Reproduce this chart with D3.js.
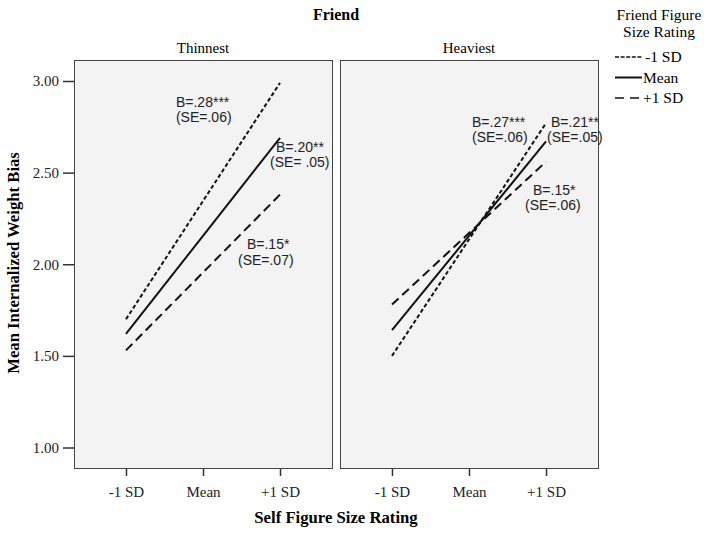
<!DOCTYPE html>
<html>
<head>
<meta charset="utf-8">
<script src="https://cdn.jsdelivr.net/npm/d3@7"></script>
<style>
  body { margin: 0; background: #fff; }
  .serif { font-family: "Liberation Serif", "Times New Roman", serif; }
  .sans { font-family: "Liberation Sans", Arial, sans-serif; }
</style>
</head>
<body>
<div id="chart"></div>
<script>
/* categories and series */
const xLevels = ['-1 SD', 'Mean', '+1 SD'];
const panels = ['Thinnest', 'Heaviest'];
const friendLevels = ['-1 SD', 'Mean', '+1 SD'];
const yTicks = [1.00, 1.50, 2.00, 2.50, 3.00];

// mean internalized weight bias at -1 SD / Mean / +1 SD self rating
const thinMinus = [1.70, 2.345, 2.99];
const thinMean = [1.62, 2.155, 2.69];
const thinPlus = [1.53, 1.955, 2.38];
const heavyMinus = [1.50, 2.135, 2.77];
const heavyMean = [1.64, 2.155, 2.67];
const heavyPlus = [1.78, 2.17, 2.56];

const thinLabels = [['B=.28***', '(SE=.06)'], ['B=.20**', '(SE= .05)'], ['B=.15*', '(SE=.07)']];
const heavyLabels = [['B=.27***', '(SE=.06)'], ['B=.21**', '(SE=.05)'], ['B=.15*', '(SE=.06)']];

const W = 704, H = 535;
const dashes = { '-1 SD': '4,2.5', 'Mean': null, '+1 SD': '9,5' };

const svg = d3.select('#chart').append('svg')
  .attr('width', W).attr('height', H);

const y = d3.scaleLinear().domain([1, 3]).range([447.5, 81]);
const plotTop = 60, plotBottom = 468;

const panelBoxes = [
  { name: panels[0], x0: 74, x1: 332, series: [thinMinus, thinMean, thinPlus], labels: thinLabels,
    // label placement: [steps right of -1 SD, y value of first baseline, 2nd line x shift]
    labelPos: [[0.649, 2.86, 0], [1.948, 2.613, -6], [1.571, 2.083, -9]] },
  { name: panels[1], x0: 340, x1: 598, series: [heavyMinus, heavyMean, heavyPlus], labels: heavyLabels,
    labelPos: [[1.039, 2.749, 0], [2.065, 2.749, -4], [1.831, 2.38, -8]] }
];

const line = (x) => d3.line().x((d, i) => x(xLevels[i])).y(d => y(d));

panelBoxes.forEach((p) => {
  const x = d3.scalePoint().domain(xLevels).range([p.x0, p.x1]).padding(0.675);
  const g = svg.append('g');

  g.append('rect')
    .attr('x', p.x0 + 0.5).attr('y', plotTop + 0.5)
    .attr('width', p.x1 - p.x0).attr('height', plotBottom - plotTop)
    .attr('fill', '#f3f3f3').attr('stroke', '#444').attr('stroke-width', 1);

  // panel title
  g.append('text').attr('class', 'serif')
    .attr('x', (p.x0 + p.x1) / 2).attr('y', 53)
    .attr('text-anchor', 'middle').attr('font-size', 15)
    .text(p.name);

  // x axis
  const xAxis = d3.axisBottom(x).tickSize(7).tickPadding(10);
  const ax = g.append('g').attr('transform', `translate(0,${plotBottom + 1})`).call(xAxis);
  ax.select('.domain').remove();
  ax.selectAll('line').attr('stroke', '#333').attr('stroke-width', 1.5);
  ax.selectAll('text').attr('class', 'serif').attr('font-size', 15).attr('fill', '#222');

  p.series.forEach((s, i) => {
    g.append('path')
      .attr('d', line(x)(s))
      .attr('fill', 'none').attr('stroke', '#111').attr('stroke-width', 2)
      .attr('stroke-dasharray', dashes[friendLevels[i]]);
  });

  const step = x.step();
  p.labels.forEach((lab, i) => {
    const [sx, vy, shift] = p.labelPos[i];
    const lx = x(xLevels[0]) + sx * step;
    lab.forEach((l, j) => {
      g.append('text').attr('class', 'sans')
        .attr('x', lx + (j === 1 ? shift : 0))
        .attr('y', y(vy) + j * 15.5)
        .attr('font-size', 14).attr('fill', '#222')
        .text(l);
    });
  });
});

// y axis
const yAxis = d3.axisLeft(y).tickValues(yTicks).tickFormat(d3.format('.2f')).tickSize(11).tickPadding(4);
const ay = svg.append('g').attr('transform', 'translate(74,0)').call(yAxis);
ay.select('.domain').remove();
ay.selectAll('line').attr('stroke', '#333').attr('stroke-width', 1.5);
ay.selectAll('text').attr('class', 'serif').attr('font-size', 15).attr('fill', '#222');

// titles
svg.append('text').attr('class', 'serif')
  .attr('x', 336).attr('y', 20).attr('text-anchor', 'middle')
  .attr('font-size', 16).attr('font-weight', 'bold').text('Friend');

svg.append('text').attr('class', 'serif')
  .attr('x', 336).attr('y', 523).attr('text-anchor', 'middle')
  .attr('font-size', 16.7).attr('font-weight', 'bold').text('Self Figure Size Rating');

svg.append('text').attr('class', 'serif')
  .attr('transform', 'translate(19,263) rotate(-90)').attr('text-anchor', 'middle')
  .attr('font-size', 16.7).attr('font-weight', 'bold').text('Mean Internalized Weight Bias');

// legend
const legend = svg.append('g');
legend.append('text').attr('class', 'serif')
  .attr('x', 659).attr('y', 20).attr('text-anchor', 'middle').attr('font-size', 15.5)
  .text('Friend Figure');
legend.append('text').attr('class', 'serif')
  .attr('x', 659).attr('y', 37).attr('text-anchor', 'middle').attr('font-size', 15.5)
  .text('Size Rating');

friendLevels.forEach((lv, i) => {
  const ly = 57 + i * 20.5;
  legend.append('line')
    .attr('x1', 615).attr('x2', 642).attr('y1', ly).attr('y2', ly)
    .attr('stroke', '#111').attr('stroke-width', lv === 'Mean' ? 2 : 1.5)
    .attr('stroke-dasharray', lv === '+1 SD' ? '9,6' : (lv === '-1 SD' ? '4,1.6' : null));
  legend.append('text').attr('class', 'serif')
    .attr('x', lv === '-1 SD' ? 645 : 643).attr('y', ly + 5).attr('font-size', 15.5)
    .text(lv);
});
</script>
</body>
</html>
